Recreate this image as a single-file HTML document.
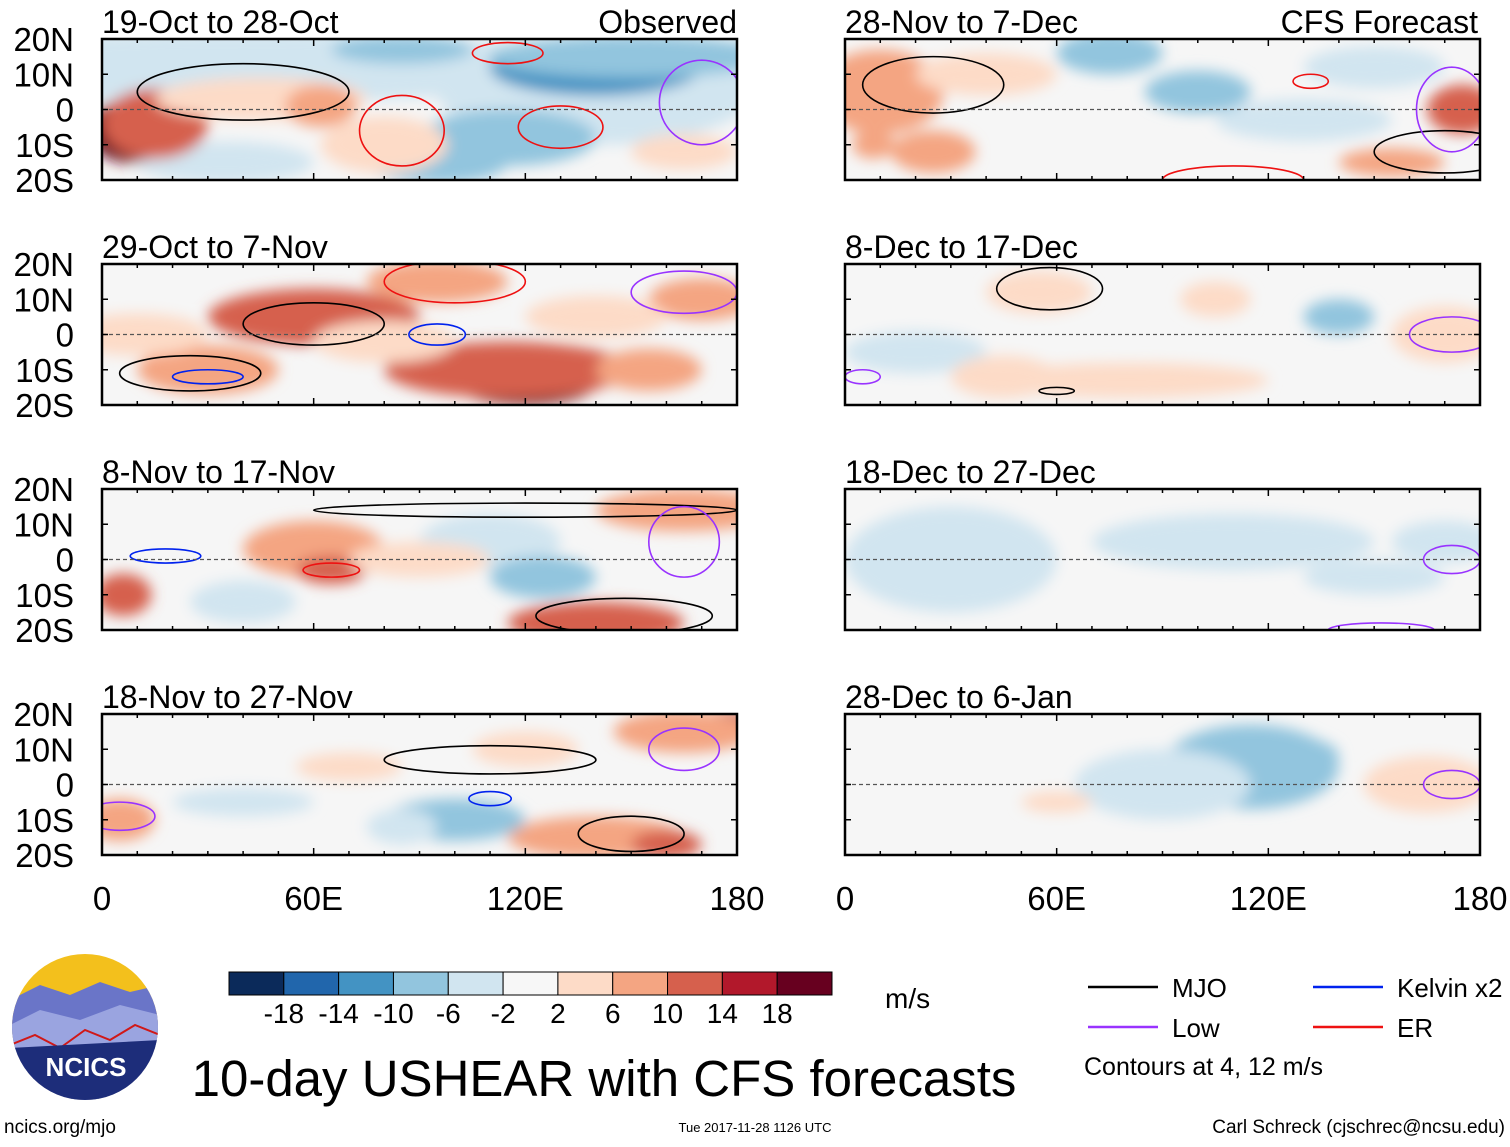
<!DOCTYPE html>
<html><head><meta charset="utf-8"><style>
body{margin:0;background:#fff;width:1510px;height:1142px;overflow:hidden;font-family:"Liberation Sans",sans-serif}
svg text{font-family:"Liberation Sans",sans-serif}
</style></head><body>
<svg id="fig" width="1510" height="1142" viewBox="0 0 1510 1142" xmlns="http://www.w3.org/2000/svg">
<defs>
<filter id="blur" x="-50%" y="-50%" width="200%" height="200%"><feGaussianBlur stdDeviation="7"/></filter>
</defs>
</svg>
<script>
// ---- data ----
const panelTitles = ["19-Oct to 28-Oct","29-Oct to 7-Nov","8-Nov to 17-Nov","18-Nov to 27-Nov","28-Nov to 7-Dec","8-Dec to 17-Dec","18-Dec to 27-Dec","28-Dec to 6-Jan"];
const latTicks = ["20N","10N","0","10S","20S"];
const latVals = [20,10,0,-10,-20];
const lonTicks = ["0","60E","120E","180"];
const lonVals = [0,60,120,180];
const cbarLabels = ["-18","-14","-10","-6","-2","2","6","10","14","18"];
// anomaly blobs per panel: [lon, lat, lonRadius, latRadius, value m/s]
const anomalies = [
 [[40,12,100,10,-4],[140,5,45,15,-5],[140,12,30,8,-12],[150,15,40,6,-9],[115,-8,25,8,-8],[95,-15,20,6,-7],[35,-15,25,6,-4],[8,-6,12,9,20],[15,-4,15,10,13],[45,3,30,6,6],[62,1,10,6,10],[80,-10,18,8,5],[165,-12,15,5,5],[85,17,20,4,-6]],
 [[60,5,30,8,12],[120,-14,20,6,20],[115,-10,35,8,11],[95,15,20,6,10],[30,-10,20,7,9],[170,10,15,6,9],[140,5,20,6,5],[10,0,20,6,5],[80,-2,20,6,6],[155,-10,15,6,7]],
 [[60,3,20,8,10],[65,-3,10,4,12],[6,-10,8,6,14],[140,-18,25,6,12],[165,14,25,6,8],[110,5,20,8,-5],[40,-12,15,6,-4],[125,-5,15,6,-6],[90,0,20,5,4]],
 [[177,17,8,4,16],[165,15,20,6,7],[140,-15,25,6,9],[160,-17,10,4,13],[100,-10,20,6,-7],[5,-10,10,6,7],[70,5,15,4,5],[40,-5,20,4,-4],[85,-12,10,5,-5],[120,10,15,5,5]],
 [[10,5,18,12,8],[8,-10,6,4,9],[75,16,15,6,-8],[100,5,15,6,-7],[175,0,10,7,12],[155,-15,15,4,10],[40,10,20,6,4],[25,-12,12,6,7],[130,-3,25,6,-4],[150,12,20,6,-4]],
 [[55,12,15,6,5],[80,-13,40,5,5],[140,5,10,5,-6],[170,0,15,8,5],[20,-5,20,6,-3],[105,10,10,5,3],[45,-12,15,6,4]],
 [[30,0,30,15,-3],[110,5,40,8,-3],[150,-5,20,5,-3],[170,5,15,6,-3]],
 [[115,5,25,12,-6],[130,8,10,5,-9],[90,0,25,10,-3],[165,0,18,8,4],[60,-5,10,3,3]]
];
// contour ellipses: [lon, lat, rLon, rLat, colorIndex]
const contourColors = ["#000","#9933ff","#0022ee","#ee1111"];
const contours = [
 [[40,5,30,8,0],[85,-6,12,10,3],[130,-5,12,6,3],[170,2,12,12,1],[115,16,10,3,3]],
 [[60,3,20,6,0],[25,-11,20,5,0],[95,0,8,3,2],[30,-12,10,2,2],[165,12,15,6,1],[100,15,20,6,3]],
 [[120,14,60,2,0],[18,1,10,2,2],[65,-3,8,2,3],[148,-16,25,5,0],[165,5,10,10,1]],
 [[110,7,30,4,0],[150,-14,15,5,0],[110,-4,6,2,2],[165,10,10,6,1],[5,-9,10,4,1]],
 [[25,7,20,8,0],[170,-12,20,6,0],[132,8,5,2,3],[110,-20,20,4,3],[172,0,10,12,1]],
 [[58,13,15,6,0],[60,-16,5,1,0],[172,0,12,5,1],[5,-12,5,2,1]],
 [[172,0,8,4,1],[152,-20,15,2,1]],
 [[172,0,8,4,1]]
];
const cbarColors = ["#0b2a5a","#2166ac","#4393c3","#92c5de","#d1e5f0","#f7f7f7","#fddbc7","#f4a582","#d6604d","#b2182b","#67001f"];

// ---- layout ----
const NS="http://www.w3.org/2000/svg";
const svg=document.getElementById('fig');
const colX=[102,845], rowY=[39,264,489,714], PW=635, PH=141;
function mk(tag,attrs,parent){const e=document.createElementNS(NS,tag);for(const k in attrs)e.setAttribute(k,attrs[k]);(parent||svg).appendChild(e);return e;}
function colorFor(v){const edges=[-18,-14,-10,-6,-2,2,6,10,14,18];let i=0;while(i<edges.length&&v>edges[i])i++;return cbarColors[i];}

panelTitles.forEach((t,p)=>{
  const x0=colX[p<4?0:1], y0=rowY[p%4];
  const xS=lon=>x0+lon/180*PW, yS=lat=>y0+(20-lat)/40*PH;
  const g=mk('g',{});
  
  
  mk('clipPath',{id:'c'+p},g);
  mk('rect',{x:x0,y:y0,width:PW,height:PH},g.lastChild);
  const inner=mk('g',{'clip-path':'url(#c'+p+')'},g);
  mk('rect',{x:x0,y:y0,width:PW,height:PH,fill:'#f6f6f6'},inner);
  const bl=mk('g',{filter:'url(#blur)'},inner);
  anomalies[p].forEach(a=>{
    const e=mk('ellipse',{cx:xS(a[0]),cy:yS(a[1]),rx:a[2]/180*PW,ry:a[3]/40*PH,fill:colorFor(a[4])},bl);
    
    
  });
  contours[p].forEach(c=>{
    const e=mk('ellipse',{cx:xS(c[0]),cy:yS(c[1]),rx:c[2]/180*PW,ry:c[3]/40*PH,fill:'none',stroke:contourColors[c[4]],'stroke-width':1.6},inner);
    
    
  });
  mk('line',{x1:x0,x2:x0+PW,y1:yS(0),y2:yS(0),stroke:'#555','stroke-dasharray':'4,3','stroke-width':1.2},inner);
  const fr=mk('rect',{x:x0,y:y0,width:PW,height:PH,fill:'none',stroke:'#000','stroke-width':2.5},g);
  
  
  for(let lo=0;lo<=180;lo+=10){const L=lo%60==0?7:4;mk('line',{x1:xS(lo),x2:xS(lo),y1:y0+PH,y2:y0+PH-L,stroke:'#000','stroke-width':1.5},g);mk('line',{x1:xS(lo),x2:xS(lo),y1:y0,y2:y0+L,stroke:'#000','stroke-width':1.5},g);}
  latVals.forEach(la=>{mk('line',{x1:x0,x2:x0+6,y1:yS(la),y2:yS(la),stroke:'#000','stroke-width':1.5},g);mk('line',{x1:x0+PW-6,x2:x0+PW,y1:yS(la),y2:yS(la),stroke:'#000','stroke-width':1.5},g);});
  const tt=mk('text',{x:x0,y:y0-6,'font-size':32,fill:'#000'},g);tt.textContent=t;
  
  
  if(p<4){latTicks.forEach((lb,i)=>{const e=mk('text',{x:74,y:yS(latVals[i])+12,'font-size':33,'text-anchor':'end'},g);e.textContent=lb;
    
    });}
  if(p%4==3){lonTicks.forEach((lb,i)=>{const e=mk('text',{x:xS(lonVals[i]),y:910,'font-size':33,'text-anchor':'middle'},g);e.textContent=lb;
    
    });}
});
[["Observed",737],["CFS Forecast",1478]].forEach(s=>{const e=mk('text',{x:s[1],y:33,'font-size':32,'text-anchor':'end'});e.textContent=s[0];
  
  });

// colorbar
const cb=mk('g',{});


const cw=603/11;
cbarColors.forEach((c,i)=>mk('rect',{x:229+i*cw,y:972,width:cw,height:23,fill:c,stroke:'#000','stroke-width':1},cb));
cbarLabels.forEach((l,i)=>{const e=mk('text',{x:229+(i+1)*cw,y:1023,'font-size':28,'text-anchor':'middle'},cb);e.textContent=l;});
const u=mk('text',{x:885,y:1008,'font-size':28},cb);u.textContent="m/s";

// legend
const lg=mk('g',{});


[["MJO","#000",1088,987],["Low","#9933ff",1088,1027],["Kelvin x2","#0022ee",1313,987],["ER","#ee1111",1313,1027]].forEach(d=>{
  mk('line',{x1:d[2],x2:d[2]+70,y1:d[3],y2:d[3],stroke:d[1],'stroke-width':2.5},lg);
  const e=mk('text',{x:d[2]+84,y:d[3]+10,'font-size':26},lg);e.textContent=d[0];
});
const ct=mk('text',{x:1084,y:1075,'font-size':25},lg);ct.textContent="Contours at 4, 12 m/s";

// logo
const lo=mk('g',{});


mk('clipPath',{id:'lc'},lo);mk('circle',{cx:85,cy:1027,r:73},lo.lastChild);
const lg2=mk('g',{'clip-path':'url(#lc)'},lo);
mk('rect',{x:10,y:952,width:150,height:150,fill:'#f3c01c'},lg2);
mk('path',{d:'M10 1000 L40 985 L70 995 L100 982 L130 992 L160 985 L160 1102 L10 1102Z',fill:'#6a75c8'},lg2);
mk('path',{d:'M10 1025 L40 1010 L80 1020 L120 1005 L160 1015 L160 1102 L10 1102Z',fill:'#9aa4e0'},lg2);
mk('path',{d:'M10 1045 L35 1035 L60 1048 L85 1030 L110 1040 L135 1025 L160 1035',fill:'none',stroke:'#d01818','stroke-width':2},lg2);
mk('path',{d:'M10 1048 L160 1040 L160 1102 L10 1102Z',fill:'#1d2d7a'},lg2);
const nt=mk('text',{x:86,y:1076,'font-size':26,'font-weight':'bold',fill:'#fff','text-anchor':'middle'},lo);nt.textContent="NCICS";

const title=mk('text',{x:604,y:1096,'font-size':51,'text-anchor':'middle'});title.textContent="10-day USHEAR with CFS forecasts";


const f1=mk('text',{x:4,y:1133,'font-size':19});f1.textContent="ncics.org/mjo";


const f2=mk('text',{x:755,y:1132,'font-size':13,'text-anchor':'middle'});f2.textContent="Tue 2017-11-28 1126 UTC";


const f3=mk('text',{x:1505,y:1133,'font-size':19,'text-anchor':'end'});f3.textContent="Carl Schreck (cjschrec@ncsu.edu)";


</script>
</body></html>
